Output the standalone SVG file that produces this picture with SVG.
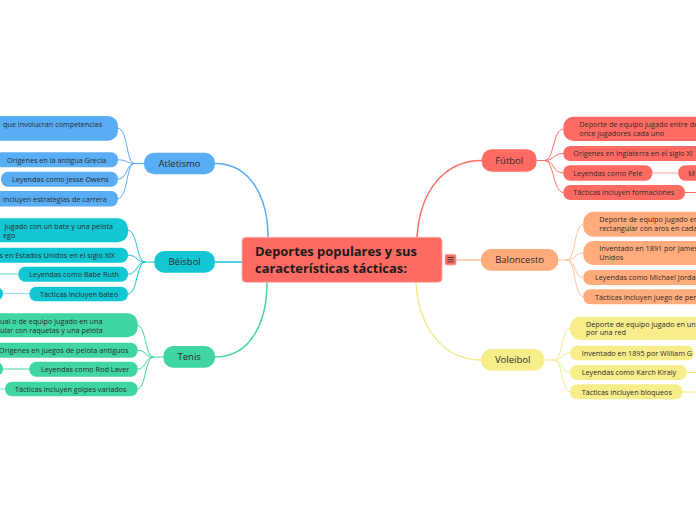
<svg xmlns="http://www.w3.org/2000/svg" width="696" height="520" viewBox="0 0 696 520">
<style>
text{font-family:"Open Sans","Noto Sans","DejaVu Sans",sans-serif;fill:#2a2a2a}
.c{font-size:7.25px}
.m{font-size:9.5px;text-anchor:middle}
.t{font-size:12.9px;font-weight:bold;fill:#1a1a1a}
.ln{fill:none;stroke-linecap:round}
.main{stroke-width:1.5}
.sub{stroke-width:1}
.blue{fill:#58ADF4}.bl{stroke:#58ADF4}
.teal{fill:#12C7D3}.tl{stroke:#12C7D3}
.green{fill:#40D6A2}.gl{stroke:#40D6A2}
.red{fill:#FF6A63}.rl{stroke:#FF6A63}
.peach{fill:#FFAB7B}.pl{stroke:#FFC39C}
.yel{fill:#F8ED8B}.yl{stroke:#F6E98C}
</style>
<rect width="696" height="520" fill="#ffffff"/>
<g id="connectors">
<path class="ln main bl" d="M215,163.5 C252,163.5 268,200 268,237"/>
<path class="ln main tl" d="M215,262 L242,262"/>
<path class="ln main gl" d="M215,357 C252,357 267,320 267,283"/>
<path class="ln main rl" d="M417,237 C420,190 445,160.5 482,160.5"/>
<path class="ln main pl" d="M456,260 L481,260"/>
<path class="ln main yl" d="M416,283 C419,330 445,360 481,360"/>
<path class="ln sub bl" d="M144,163.5 L134,163.5 M134,163.5 C126,163.5 128,128.3 118,128.3 M134,163.5 C126,163.5 128,159.8 118,159.8 M134,163.5 C126,163.5 128,179.2 118,179.2 M134,163.5 C126,163.5 128,198.8 118,198.8"/>
<path class="ln sub tl" d="M154,262 L145,262 M145,262 C136,262 138,230.3 128,230.3 M145,262 C136,262 138,255.2 128,255.2 M145,262 C136,262 138,274.2 128,274.2 M145,262 C136,262 138,294 128,294"/>
<path class="ln sub" stroke="#5FD5DD" d="M0,274 L18.3,274"/>
<path class="ln sub" stroke="#8ADFE5" d="M3,293.7 L29.3,293.7"/>
<path class="ln sub gl" d="M163,357 L153,357 M153,357 C145,357 146,325.3 137.7,325.3 M153,357 C145,357 146,350.2 137.7,350.2 M153,357 C145,357 146,369.2 137.7,369.2 M153,357 C145,357 146,389 137.7,389"/>
<path class="ln sub gl" d="M3,369 L29.3,369"/>
<path class="ln sub" stroke="#7FE2BF" d="M0,389 L5,389"/>
<path class="ln sub rl" d="M537,160.5 L545,160.5 M545,160.5 C554,160.5 553,129 563,129 M545,160.5 C554,160.5 553,153.5 563,153.5 M545,160.5 C554,160.5 553,173 563,173 M545,160.5 C554,160.5 553,192.5 563,192.5"/>
<path class="ln sub" stroke="#FFA8A3" d="M652,173 L678,173"/>
<path class="ln sub rl" d="M685,192.5 L696,192.5"/>
<path class="ln sub pl" d="M558,260 L567,260 M567,260 C576,260 574,224.3 583,224.3 M567,260 C576,260 574,253 583,253 M567,260 C576,260 574,277.5 583,277.5 M567,260 C576,260 574,296.8 583,296.8"/>
<path class="ln sub yl" d="M544,360 L554,360 M554,360 C563,360 561,328.5 570,328.5 M554,360 C563,360 561,353 570,353 M554,360 C563,360 561,372.5 570,372.5 M554,360 C563,360 561,391.8 570,391.8"/>
<path class="ln sub yl" d="M687,372.5 L696,372.5"/>
<path class="ln sub yl" d="M682,392 L696,392"/>
</g>
<g id="central">
<rect x="242" y="237.3" width="200" height="45" rx="4" fill="#FF6A63" stroke="#ffb0ab" stroke-width="0.8"/>
<text class="t" x="255" y="256">Deportes populares y sus</text>
<text class="t" x="255" y="273">características tácticas:</text>
</g>
<g id="menu-icon">
<rect x="445" y="254.3" width="11" height="10.7" rx="1.5" fill="#FF6A63" stroke="#ffb0ab" stroke-width="0.8"/>
<path d="M447.5,257.5 H453.5 M447.5,259.7 H453.5 M447.5,261.9 H453.5" stroke="#333" stroke-width="0.9"/>
</g>
<g id="atletismo">
<rect class="blue" x="144" y="152.7" width="71" height="21.6" rx="10"/>
<text class="m" x="179.5" y="166.8">Atletismo</text>
</g>
<g id="atl-1"><rect class="blue" x="-20" y="116" width="138" height="24.7" rx="10"/><text class="c" x="3" y="127">que involucran competencias</text></g>
<g id="atl-2"><rect class="blue" x="-5" y="152.3" width="123" height="15" rx="7"/><text class="c" x="7" y="162.5">Orígenes en la antigua Grecia</text></g>
<g id="atl-3"><rect class="blue" x="1" y="171.7" width="117" height="15" rx="7"/><text class="c" x="12" y="182">Leyendas como Jesse Owens</text></g>
<g id="atl-4"><rect class="blue" x="-10" y="191" width="128" height="15.5" rx="7"/><text class="c" x="3" y="201.5">incluyen estrategias de carrera</text></g>
<g id="beisbol">
<rect class="teal" x="154.3" y="251" width="60.7" height="21.7" rx="10"/>
<text class="m" x="184.6" y="265">Béisbol</text>
</g>
<g id="bei-1"><rect class="teal" x="-20" y="218.3" width="148" height="24" rx="10"/><text class="c" x="4.5" y="228.5">jugado con un bate y una pelota</text><text class="c" x="3" y="237.5">ego</text></g>
<g id="bei-2"><rect class="teal" x="-20" y="247.7" width="148" height="15" rx="7"/><text class="c" x="-0.5" y="258">s en Estados Unidos en el siglo XIX</text></g>
<g id="bei-3"><rect class="teal" x="18.3" y="266.7" width="109.7" height="15" rx="7"/><text class="c" x="29.3" y="277">Leyendas como Babe Ruth</text></g>
<g id="bei-4"><rect class="teal" x="29.3" y="286.7" width="98.7" height="14.5" rx="7"/><text class="c" x="40" y="297">Tácticas incluyen bateo</text></g>
<g id="bei-4-1"><rect class="teal" x="-40" y="287" width="43" height="13.5" rx="6.5"/></g>
<g id="tenis">
<rect class="green" x="163.3" y="346" width="51.7" height="21.7" rx="10"/>
<text class="m" x="189.2" y="360">Tenis</text>
</g>
<g id="ten-1"><rect class="green" x="-20" y="313.3" width="157.7" height="24" rx="10"/><text class="c" x="0" y="323.5">ual o de equipo jugado en una</text><text class="c" x="0" y="332.5">ular con raquetas y una pelota</text></g>
<g id="ten-2"><rect class="green" x="-20" y="342.7" width="157.7" height="15" rx="7"/><text class="c" x="-1" y="353">Orígenes en juegos de pelota antiguos</text></g>
<g id="ten-3"><rect class="green" x="29.3" y="361.7" width="108.4" height="15" rx="7"/><text class="c" x="41" y="372">Leyendas como Rod Laver</text></g>
<g id="ten-3-1"><rect class="green" x="-40" y="362" width="43" height="14" rx="6.5"/></g>
<g id="ten-4"><rect class="green" x="5" y="381.7" width="132.7" height="14.5" rx="7"/><text class="c" x="15" y="392">Tácticas incluyen golpes variados</text></g>
<g id="futbol">
<rect class="red" x="481.7" y="149.3" width="55" height="22.4" rx="10"/>
<text class="m" x="509.2" y="163.7">Fútbol</text>
</g>
<g id="fut-1"><rect class="red" x="563.3" y="116.7" width="150" height="24.3" rx="10"/><text class="c" x="579.3" y="127">Deporte de equipo jugado entre do</text><text class="c" x="579.3" y="136">once jugadores cada uno</text></g>
<g id="fut-2"><rect class="red" x="563.3" y="146" width="150" height="15" rx="7"/><text class="c" x="573.3" y="156.3">Orígenes en Inglaterra en el siglo XI</text></g>
<g id="fut-3"><rect class="red" x="563.3" y="165.3" width="89" height="15.4" rx="7"/><text class="c" x="573.3" y="175.8">Leyendas como Pelé</text></g>
<g id="fut-3-1"><rect class="red" x="678.3" y="165.3" width="40" height="15.4" rx="7"/><text class="c" x="688.3" y="175.8">M</text></g>
<g id="fut-4"><rect class="red" x="563.3" y="185" width="121.7" height="15" rx="7"/><text class="c" x="573.3" y="195.3">Tácticas incluyen formaciones</text></g>
<g id="baloncesto">
<rect class="peach" x="481" y="249" width="77.3" height="21.7" rx="10"/>
<text class="m" x="519.6" y="263">Baloncesto</text>
</g>
<g id="bal-1"><rect class="peach" x="583.3" y="211.7" width="130" height="25" rx="10"/><text class="c" x="599.3" y="222">Deporte de equipo jugado en</text><text class="c" x="599.3" y="231.3">rectangular con aros en cada</text></g>
<g id="bal-2"><rect class="peach" x="583.3" y="241" width="130" height="24" rx="10"/><text class="c" x="599.3" y="251">Inventado en 1891 por James</text><text class="c" x="599.3" y="259.8">Unidos</text></g>
<g id="bal-3"><rect class="peach" x="583.3" y="270" width="130" height="15" rx="7"/><text class="c" x="595" y="280.3">Leyendas como Michael Jordan</text></g>
<g id="bal-4"><rect class="peach" x="583.3" y="289.3" width="130" height="15" rx="7"/><text class="c" x="595" y="299.6">Tácticas incluyen juego de per</text></g>
<g id="voleibol">
<rect class="yel" x="481" y="349" width="63.3" height="21.7" rx="10"/>
<text class="m" x="512.6" y="363">Voleibol</text>
</g>
<g id="vol-1"><rect class="yel" x="570" y="316.7" width="140" height="23.3" rx="10"/><text class="c" x="586" y="326.5">Deporte de equipo jugado en un</text><text class="c" x="586" y="335.3">por una red</text></g>
<g id="vol-2"><rect class="yel" x="570" y="345.7" width="124" height="14.5" rx="7"/><text class="c" x="581.7" y="355.7">Inventado en 1895 por William G</text></g>
<g id="vol-3"><rect class="yel" x="570" y="365" width="116.7" height="15" rx="7"/><text class="c" x="581.7" y="375.3">Leyendas como Karch Kiraly</text></g>
<g id="vol-4"><rect class="yel" x="570" y="384.3" width="112.3" height="15" rx="7"/><text class="c" x="581.7" y="394.6">Tácticas incluyen bloqueos</text></g>
</svg>
